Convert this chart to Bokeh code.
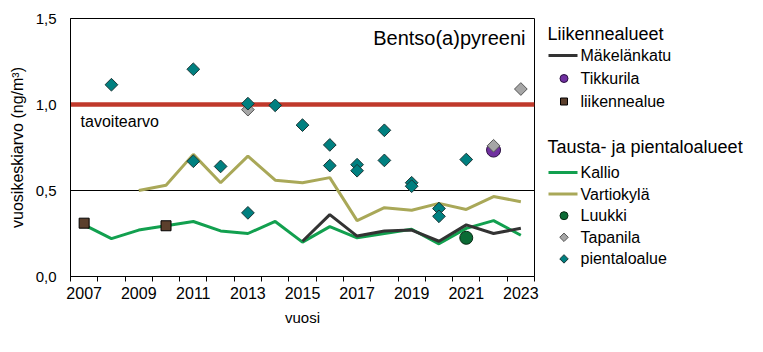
import numpy as np
from bokeh.plotting import figure
from bokeh.models import Range1d, FixedTicker, CustomJSTickFormatter, Span, Label
from bokeh.core.properties import value
from bokeh.layouts import row
from bokeh.embed import file_html
from bokeh.resources import INLINE

nan = float("nan")

# ---------------- data ----------------
years = list(range(2007, 2024))
kallio = [0.30, 0.22, 0.27, 0.295, 0.32, 0.265, 0.25, 0.32, 0.20, 0.29, 0.225, 0.25, 0.275, 0.19, 0.28, 0.325, 0.24]
vartiokyla = [nan, nan, 0.50, 0.53, 0.71, 0.545, 0.70, 0.56, 0.545, 0.575, 0.325, 0.40, 0.385, 0.425, 0.39, 0.465, 0.435]
makelankatu = [nan, nan, nan, nan, nan, nan, nan, nan, 0.205, 0.36, 0.235, 0.265, 0.27, 0.205, 0.30, 0.25, 0.28]

tikkurila_year = [2022]
tikkurila_val = [0.735]
luukki_year = [2021]
luukki_val = [0.225]
tapanila_year = [2013, 2022, 2023]
tapanila_val = [0.97, 0.76, 1.09]
liikennealue_year = [2007, 2010]
liikennealue_val = [0.31, 0.295]
pientalo_year = [2008, 2011, 2011, 2012, 2013, 2013, 2014, 2015, 2016, 2016,
                 2017, 2017, 2018, 2018, 2019, 2019, 2020, 2020, 2021]
pientalo_val = [1.115, 1.205, 0.67, 0.64, 1.005, 0.37, 0.995, 0.88, 0.765, 0.645,
                0.65, 0.615, 0.85, 0.675, 0.545, 0.525, 0.395, 0.35, 0.68]

tavoitearvo = 1.0
x_tick_labels_years = list(range(2007, 2024, 2))
y_ticks = [0.0, 0.5, 1.0, 1.5]
grid_ticks = [0.5, 1.0]

legend_group1_title = "Liikennealueet"
legend_group1 = ["Mäkelänkatu", "Tikkurila", "liikennealue"]
legend_group2_title = "Tausta- ja pientaloalueet"
legend_group2 = ["Kallio", "Vartiokylä", "Luukki", "Tapanila", "pientaloalue"]

FONT = "Liberation Sans"

# colours
C_KALLIO = "#12a04f"
C_VARTIO = "#a9a858"
C_MAKEL = "#333333"
C_RED = "#c0392b"
C_TEAL = "#008080"
C_GRAY = "#a6a6a6"
C_PURPLE = "#7030a0"
C_LUUKKI = "#0b6b35"
C_BROWN = "#5b3f2c"

# layout
W, H = 763, 352
MAIN_W = 540
FRAME_LEFT, FRAME_RIGHT, FRAME_TOP, FRAME_BOTTOM = 70, 534, 18, 276

# ---------------- main figure ----------------
p = figure(width=MAIN_W, height=H, x_range=Range1d(2006.5, 2023.5), y_range=Range1d(0, 1.5),
           output_backend="svg", toolbar_location=None,
           min_border_left=FRAME_LEFT, min_border_right=MAIN_W - FRAME_RIGHT,
           min_border_top=FRAME_TOP, min_border_bottom=H - FRAME_BOTTOM)
p.background_fill_color = "white"
p.border_fill_color = "white"
p.outline_line_color = "black"
p.outline_line_alpha = 1
p.outline_line_width = 1

xa = p.xaxis[0]
xa.ticker = FixedTicker(ticks=x_tick_labels_years, minor_ticks=[y - 0.5 for y in years] + [years[-1] + 0.5])
xa.major_tick_out = 0
xa.major_tick_in = 0
xa.minor_tick_out = 5
xa.minor_tick_in = 0
xa.minor_tick_line_color = "black"
xa.axis_line_color = "black"
xa.major_label_text_font = FONT
xa.major_label_text_font_size = "16px"
xa.major_label_text_color = "black"
xa.major_label_standoff = 5
xa.axis_label = "vuosi"
xa.axis_label_text_font = FONT
xa.axis_label_text_font_size = "15px"
xa.axis_label_text_font_style = "normal"
xa.axis_label_text_color = "black"
xa.axis_label_standoff = 7

ya = p.yaxis[0]
ya.ticker = FixedTicker(ticks=y_ticks)
ya.formatter = CustomJSTickFormatter(code="return tick.toFixed(1).replace('.', ',');")
ya.major_tick_out = 0
ya.major_tick_in = 0
ya.minor_tick_out = 0
ya.minor_tick_in = 0
ya.axis_line_color = "black"
ya.major_label_text_font = FONT
ya.major_label_text_font_size = "15px"
ya.major_label_text_color = "black"
ya.major_label_standoff = 14
ya.axis_label = "vuosikeskiarvo (ng/m³)"
ya.axis_label_text_font = FONT
ya.axis_label_text_font_size = "16px"
ya.axis_label_text_font_style = "normal"
ya.axis_label_text_color = "black"
ya.axis_label_standoff = 7

p.xgrid.visible = False
p.ygrid.ticker = FixedTicker(ticks=grid_ticks)
p.ygrid.grid_line_color = "black"
p.ygrid.grid_line_alpha = 1
p.ygrid.grid_line_width = 1

p.add_layout(Span(location=tavoitearvo, dimension="width", line_color=C_RED, line_width=4.5, level="underlay"))

p.line(years, kallio, line_color=C_KALLIO, line_width=3)
p.line(years, makelankatu, line_color=C_MAKEL, line_width=3)
p.line(years, vartiokyla, line_color=C_VARTIO, line_width=3)

p.scatter(liikennealue_year, liikennealue_val, marker="square", size=10, fill_color=C_BROWN, line_color="black", line_width=1)
p.scatter(tikkurila_year, tikkurila_val, marker="circle", size=14, fill_color=C_PURPLE, line_color="#2a1040", line_width=1)
p.scatter(luukki_year, luukki_val, marker="circle", size=13, fill_color=C_LUUKKI, line_color="#0a2a15", line_width=1)
p.scatter(tapanila_year, tapanila_val, marker="square", angle=np.pi / 4, size=9, fill_color=C_GRAY, line_color="#555555", line_width=1)
p.scatter(pientalo_year, pientalo_val, marker="square", angle=np.pi / 4, size=9, fill_color=C_TEAL, line_color="#1a3535", line_width=1)

p.add_layout(Label(x=2023.17, y=1.384, text="Bentso(a)pyreeni", text_align="right", text_baseline="middle",
                   text_font=FONT, text_font_size="20px", text_color="black"))
p.add_layout(Label(x=2006.87, y=0.90, text="tavoitearvo", text_align="left", text_baseline="middle",
                   text_font=FONT, text_font_size="16px", text_color="black"))

# ---------------- legend figure (frame is aligned with the main frame) ----------------
LW = W - MAIN_W
p2 = figure(width=LW, height=H, x_range=Range1d(0, LW), y_range=Range1d(H - FRAME_BOTTOM, H - FRAME_TOP),
            output_backend="svg", toolbar_location=None, min_border=0,
            min_border_top=FRAME_TOP, min_border_bottom=H - FRAME_BOTTOM,
            x_axis_location=None, y_axis_location=None)
p2.grid.visible = False
p2.outline_line_color = None
p2.background_fill_color = "white"
p2.border_fill_color = "white"

def sy(screen_y):
    return H - screen_y

HEAD_X = 7
KEY_X0, KEY_X1 = 8, 37
KEY_CX = 23.5
LABEL_X = 40

# headings
p2.text(x=[HEAD_X, HEAD_X], y=[sy(33), sy(146)], text=[legend_group1_title, legend_group2_title],
        text_font=value(FONT), text_font_size="18px", text_color="black",
        text_align="left", text_baseline="middle")

g1_y = [sy(55 + 23 * i) for i in range(len(legend_group1))]
g2_y = [sy(172 + 21.6 * i) for i in range(len(legend_group2))]

p2.text(x=[LABEL_X] * len(legend_group1), y=g1_y, text=legend_group1,
        text_font=value(FONT), text_font_size="16px", text_color="black",
        text_align="left", text_baseline="middle")
p2.text(x=[LABEL_X] * len(legend_group2), y=g2_y, text=legend_group2,
        text_font=value(FONT), text_font_size="16px", text_color="black",
        text_align="left", text_baseline="middle")

# keys group 1
p2.line([KEY_X0, KEY_X1], [g1_y[0], g1_y[0]], line_color=C_MAKEL, line_width=3)
p2.scatter([KEY_CX], [g1_y[1]], marker="circle", size=8, fill_color=C_PURPLE, line_color="#2a1040")
p2.scatter([KEY_CX], [g1_y[2]], marker="square", size=7, fill_color=C_BROWN, line_color="black")
# keys group 2
p2.line([KEY_X0, KEY_X1], [g2_y[0], g2_y[0]], line_color=C_KALLIO, line_width=3)
p2.line([KEY_X0, KEY_X1], [g2_y[1], g2_y[1]], line_color=C_VARTIO, line_width=3)
p2.scatter([KEY_CX], [g2_y[2]], marker="circle", size=8, fill_color=C_LUUKKI, line_color="#0a2a15")
p2.scatter([KEY_CX], [g2_y[3]], marker="square", angle=np.pi / 4, size=6, fill_color=C_GRAY, line_color="#555555")
p2.scatter([KEY_CX], [g2_y[4]], marker="square", angle=np.pi / 4, size=6, fill_color=C_TEAL, line_color="#1a3535")

layout = row(p, p2)
open("out.html", "w").write(file_html(layout, INLINE))
